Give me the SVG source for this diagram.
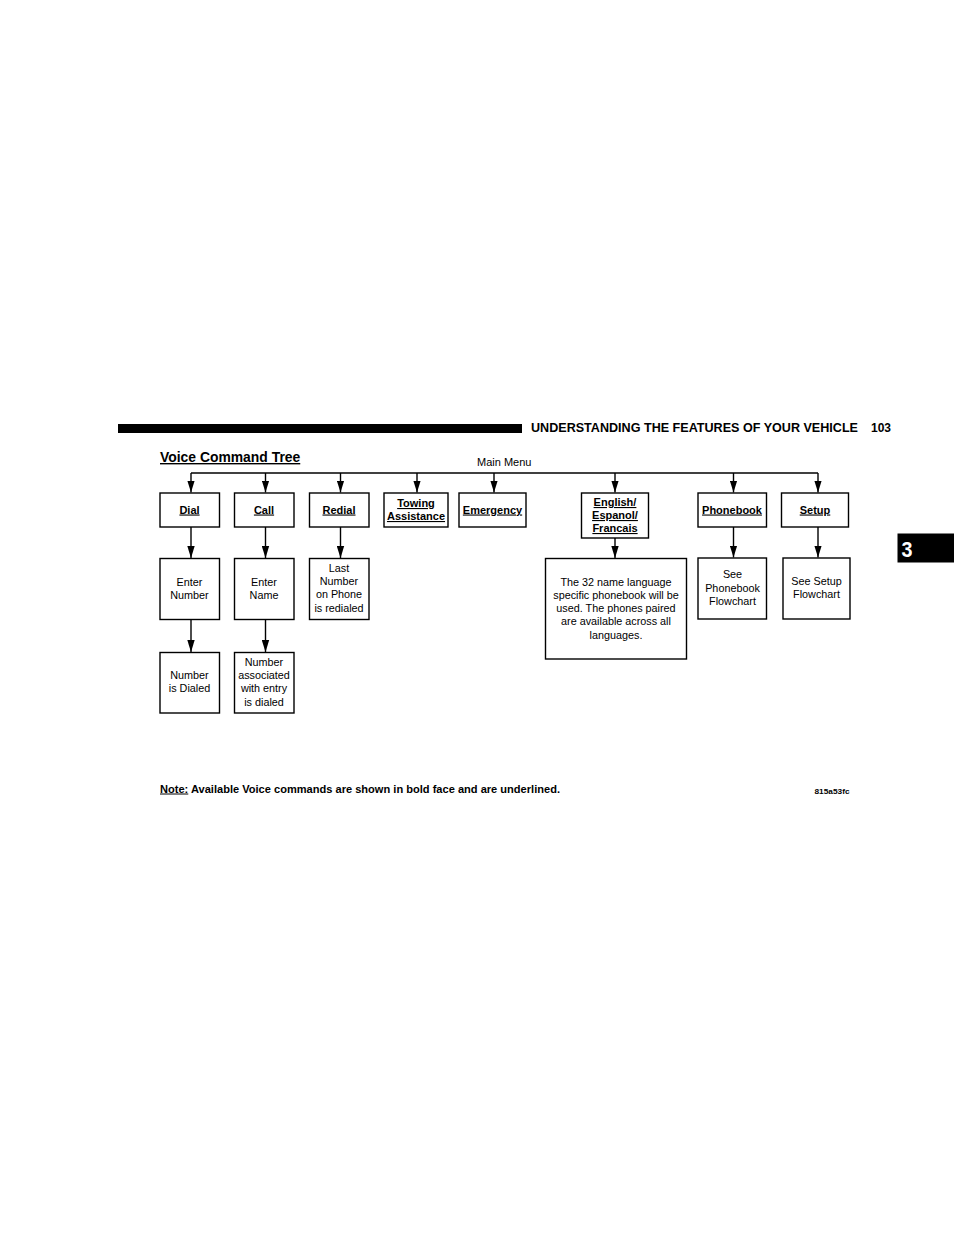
<svg xmlns="http://www.w3.org/2000/svg" width="954" height="1235" viewBox="0 0 954 1235">
<style>
text{font-family:"Liberation Sans",Arial,sans-serif;fill:#000}
.box{fill:#fff;stroke:#000;stroke-width:1.4}
.lbl{font-size:11px;font-weight:bold;text-decoration:underline;text-anchor:middle}
.txt{font-size:10.8px;text-anchor:middle}
.con line{stroke:#000;stroke-width:1.4}
</style>
<defs>
<marker id="ah" viewBox="0 0 12 8" refX="12" refY="4" markerWidth="12" markerHeight="8" markerUnits="userSpaceOnUse" orient="auto">
<path d="M0,0.3 L12,4 L0,7.7 z" fill="#000"/>
</marker>
</defs>
<rect x="118" y="424" width="404" height="9" fill="#000"/>
<text x="531" y="431.5" font-size="12" font-weight="bold" textLength="327" lengthAdjust="spacingAndGlyphs">UNDERSTANDING THE FEATURES OF YOUR VEHICLE</text>
<text x="871" y="431.5" font-size="12" font-weight="bold">103</text>
<rect x="897.5" y="533.5" width="56.5" height="29" fill="#000"/>
<text x="901.5" y="556.5" font-size="22" font-weight="bold" style="fill:#fff" textLength="11" lengthAdjust="spacingAndGlyphs">3</text>
<text x="160" y="462" font-size="13.9" font-weight="bold" text-decoration="underline">Voice Command Tree</text>
<text x="477" y="466" font-size="11">Main Menu</text>
<g id="connectors" class="con">
<line x1="191" y1="473" x2="818" y2="473"/>
<line x1="191" y1="473" x2="191" y2="492.5" marker-end="url(#ah)"/>
<line x1="265.5" y1="473" x2="265.5" y2="492.5" marker-end="url(#ah)"/>
<line x1="340.5" y1="473" x2="340.5" y2="492.5" marker-end="url(#ah)"/>
<line x1="417" y1="473" x2="417" y2="492.5" marker-end="url(#ah)"/>
<line x1="494" y1="473" x2="494" y2="492.5" marker-end="url(#ah)"/>
<line x1="615" y1="473" x2="615" y2="492.5" marker-end="url(#ah)"/>
<line x1="733.5" y1="473" x2="733.5" y2="492.5" marker-end="url(#ah)"/>
<line x1="818" y1="473" x2="818" y2="492.5" marker-end="url(#ah)"/>
<line x1="191" y1="527" x2="191" y2="558" marker-end="url(#ah)"/>
<line x1="265.5" y1="527" x2="265.5" y2="558" marker-end="url(#ah)"/>
<line x1="340.5" y1="527" x2="340.5" y2="558" marker-end="url(#ah)"/>
<line x1="615" y1="538" x2="615" y2="558" marker-end="url(#ah)"/>
<line x1="733.5" y1="527" x2="733.5" y2="557.5" marker-end="url(#ah)"/>
<line x1="818" y1="527" x2="818" y2="557.5" marker-end="url(#ah)"/>
<line x1="191" y1="619.5" x2="191" y2="652" marker-end="url(#ah)"/>
<line x1="265.5" y1="619.5" x2="265.5" y2="652" marker-end="url(#ah)"/>
</g>
<g id="dial"><rect class="box" x="160" y="493" width="59.5" height="34"/><text class="lbl" x="189.5" y="513.5">Dial</text></g>
<g id="call"><rect class="box" x="234.5" y="493" width="59.5" height="34"/><text class="lbl" x="264" y="513.5">Call</text></g>
<g id="redial"><rect class="box" x="309.5" y="493" width="59.5" height="34"/><text class="lbl" x="339" y="513.5">Redial</text></g>
<g id="towing"><rect class="box" x="384" y="493" width="64" height="34"/><text class="lbl" x="416" y="507">Towing</text><text class="lbl" x="416" y="520">Assistance</text></g>
<g id="emergency"><rect class="box" x="459" y="493" width="67" height="34"/><text class="lbl" x="492.5" y="513.5">Emergency</text></g>
<g id="english"><rect class="box" x="581.5" y="493" width="67" height="45"/><text class="lbl" x="615" y="506">English/</text><text class="lbl" x="615" y="519">Espanol/</text><text class="lbl" x="615" y="532">Francais</text></g>
<g id="phonebook"><rect class="box" x="698" y="493" width="68.5" height="34"/><text class="lbl" x="732" y="513.5">Phonebook</text></g>
<g id="setup"><rect class="box" x="781.5" y="493" width="67" height="34"/><text class="lbl" x="815" y="513.5">Setup</text></g>
<g id="enter-number"><rect class="box" x="160" y="558.5" width="59.5" height="61"/><text class="txt" x="189.5" y="585.5">Enter</text><text class="txt" x="189.5" y="598.5">Number</text></g>
<g id="enter-name"><rect class="box" x="234.5" y="558.5" width="59.5" height="61"/><text class="txt" x="264" y="585.5">Enter</text><text class="txt" x="264" y="598.5">Name</text></g>
<g id="last-number"><rect class="box" x="309.5" y="558.5" width="59.5" height="61"/><text class="txt" x="339" y="572">Last</text><text class="txt" x="339" y="585">Number</text><text class="txt" x="339" y="598">on Phone</text><text class="txt" x="339" y="611.5">is redialed</text></g>
<g id="language-note"><rect class="box" x="545.5" y="558.5" width="141" height="100.5"/><text class="txt" x="616" y="585.5">The 32 name language</text><text class="txt" x="616" y="598.5">specific phonebook will be</text><text class="txt" x="616" y="612">used. The phones paired</text><text class="txt" x="616" y="625">are available across all</text><text class="txt" x="616" y="638.5">languages.</text></g>
<g id="see-phonebook"><rect class="box" x="698" y="558" width="68.5" height="61"/><text class="txt" x="732.5" y="578">See</text><text class="txt" x="732.5" y="591.5">Phonebook</text><text class="txt" x="732.5" y="604.5">Flowchart</text></g>
<g id="see-setup"><rect class="box" x="783" y="558" width="67" height="61"/><text class="txt" x="816.5" y="584.5">See Setup</text><text class="txt" x="816.5" y="597.5">Flowchart</text></g>
<g id="number-dialed"><rect class="box" x="160" y="652.5" width="59.5" height="60.5"/><text class="txt" x="189.5" y="679">Number</text><text class="txt" x="189.5" y="692">is Dialed</text></g>
<g id="number-associated"><rect class="box" x="234.5" y="652.5" width="59.5" height="60.5"/><text class="txt" x="264" y="665.5">Number</text><text class="txt" x="264" y="679">associated</text><text class="txt" x="264" y="692">with entry</text><text class="txt" x="264" y="705.5">is dialed</text></g>
<text x="160" y="792.5" font-size="10" font-weight="bold" textLength="400" lengthAdjust="spacingAndGlyphs"><tspan text-decoration="underline">Note:</tspan> Available Voice commands are shown in bold face and are underlined.</text>
<text x="814.5" y="794" font-size="8" font-weight="bold" textLength="35" lengthAdjust="spacingAndGlyphs">815a53fc</text>
</svg>
